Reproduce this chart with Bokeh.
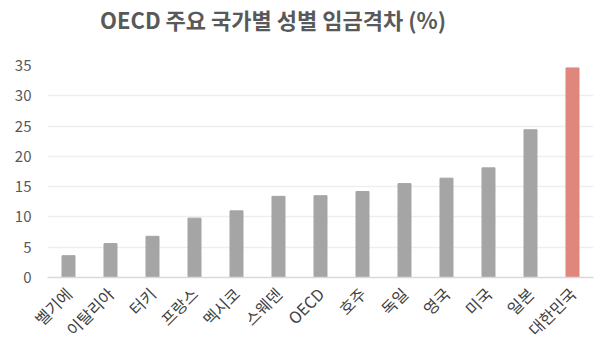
import math
from bokeh.plotting import figure
from bokeh.models import Range1d, SingleIntervalTicker, Div
from bokeh.layouts import column
from bokeh.embed import file_html
from bokeh.resources import INLINE

countries = ["벨기에", "이탈리아", "터키", "프랑스", "멕시코", "스웨덴", "OECD",
             "호주", "독일", "영국", "미국", "일본", "대한민국"]
gap = [3.6, 5.6, 6.8, 9.8, 11.0, 13.4, 13.5, 14.2, 15.5, 16.4, 18.1, 24.4, 34.6]
colors = ["#a5a5a5"] * 12 + ["#e0877d"]
title_text = "OECD 주요 국가별 성별 임금격차 (%)"

FONT = "Noto Sans CJK KR"

title = Div(text=title_text, width=600, height=40, margin=0,
            styles={"font-family": FONT, "font-size": "22px", "font-weight": "bold",
                    "color": "#595959", "padding-left": "100px", "padding-top": "4px",
                    "line-height": "30px", "white-space": "nowrap"})

p = figure(x_range=countries, y_range=Range1d(0, 35), width=600, height=313,
           output_backend="svg", toolbar_location=None, margin=0,
           min_border_left=47, min_border_right=7, min_border_top=25, min_border_bottom=76)
p.vbar(x=countries, top=gap, width=0.31, color=colors)

p.outline_line_color = None
p.background_fill_color = "white"
p.border_fill_color = "white"

p.yaxis.ticker = SingleIntervalTicker(interval=5)
p.yaxis.axis_line_color = None
p.yaxis.major_tick_line_color = None
p.yaxis.minor_tick_line_color = None
p.yaxis.major_label_text_font = FONT
p.yaxis.major_label_text_font_size = "15px"
p.yaxis.major_label_text_color = "#595959"
p.yaxis.major_label_standoff = 10

p.xaxis.axis_line_color = "#d9d9d9"
p.xaxis.axis_line_width = 1.5
p.xaxis.major_tick_line_color = None
p.xaxis.minor_tick_line_color = None
p.xaxis.major_label_orientation = math.pi / 4
p.xaxis.major_label_text_font = FONT
p.xaxis.major_label_text_font_size = "16px"
p.xaxis.major_label_text_color = "#404040"
p.xaxis.major_label_standoff = 7

p.xgrid.grid_line_color = None
p.ygrid.grid_line_color = "#eeeeee"
p.ygrid.grid_line_width = 1.5

layout = column(title, p, spacing=0, margin=0)
open("out.html", "w").write(file_html(layout, INLINE))
